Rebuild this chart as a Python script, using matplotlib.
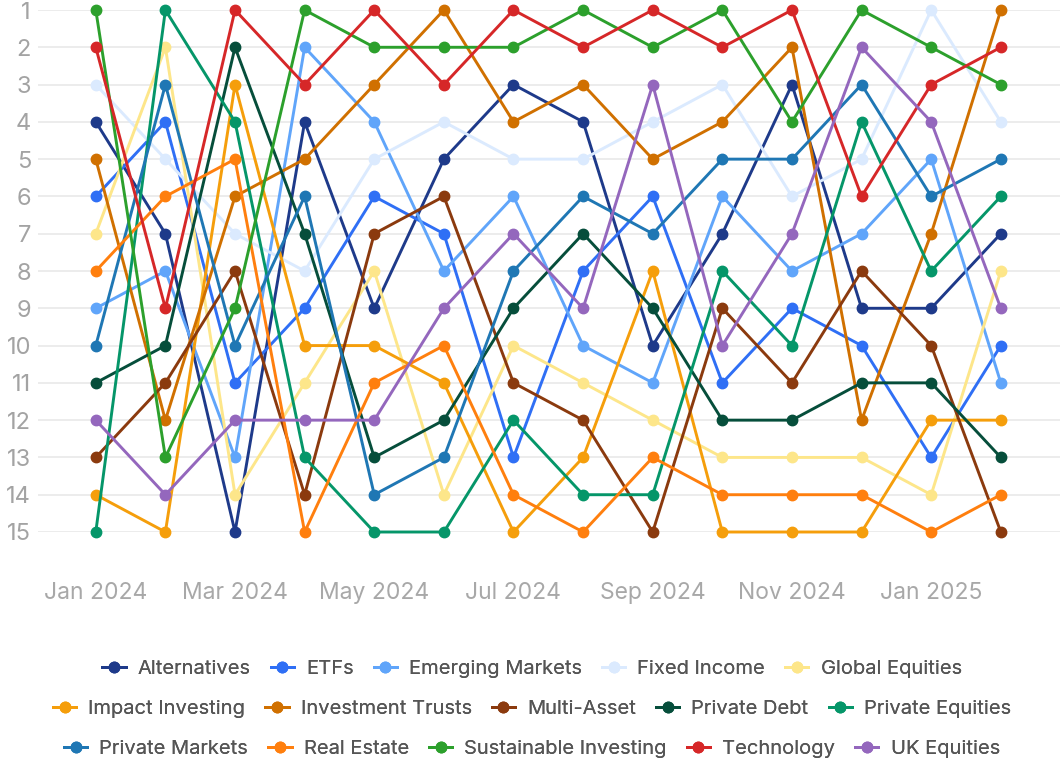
import numpy as np
import matplotlib; matplotlib.use("Agg")
import matplotlib.pyplot as plt

months = ["Jan 2024", "Feb 2024", "Mar 2024", "Apr 2024", "May 2024", "Jun 2024", "Jul 2024",
          "Aug 2024", "Sep 2024", "Oct 2024", "Nov 2024", "Dec 2024", "Jan 2025", "Feb 2025"]
tick_every = 2

alternatives = [4, 7, 15, 4, 9, 5, 3, 4, 10, 7, 3, 9, 9, 7]
etfs = [6, 4, 11, 9, 6, 7, 13, 8, 6, 11, 9, 10, 13, 10]
emerging_markets = [9, 8, 13, 2, 4, 8, 6, 10, 11, 6, 8, 7, 5, 11]
fixed_income = [3, 5, 7, 8, 5, 4, 5, 5, 4, 3, 6, 5, 1, 4]
global_equities = [7, 2, 14, 11, 8, 14, 10, 11, 12, 13, 13, 13, 14, 8]
impact_investing = [14, 15, 3, 10, 10, 11, 15, 13, 8, 15, 15, 15, 12, 12]
investment_trusts = [5, 12, 6, 5, 3, 1, 4, 3, 5, 4, 2, 12, 7, 1]
multi_asset = [13, 11, 8, 14, 7, 6, 11, 12, 15, 9, 11, 8, 10, 15]
private_debt = [11, 10, 2, 7, 13, 12, 9, 7, 9, 12, 12, 11, 11, 13]
private_equities = [15, 1, 4, 13, 15, 15, 12, 14, 14, 8, 10, 4, 8, 6]
private_markets = [10, 3, 10, 6, 14, 13, 8, 6, 7, 5, 5, 3, 6, 5]
real_estate = [8, 6, 5, 15, 11, 10, 14, 15, 13, 14, 14, 14, 15, 14]
sustainable_investing = [1, 13, 9, 1, 2, 2, 2, 1, 2, 1, 4, 1, 2, 3]
technology = [2, 9, 1, 3, 1, 3, 1, 2, 1, 2, 1, 6, 3, 2]
uk_equities = [12, 14, 12, 12, 12, 9, 7, 9, 3, 10, 7, 2, 4, 9]

names = ["Alternatives", "ETFs", "Emerging Markets", "Fixed Income", "Global Equities",
         "Impact Investing", "Investment Trusts", "Multi-Asset", "Private Debt", "Private Equities",
         "Private Markets", "Real Estate", "Sustainable Investing", "Technology", "UK Equities"]
ranks = [alternatives, etfs, emerging_markets, fixed_income, global_equities,
         impact_investing, investment_trusts, multi_asset, private_debt, private_equities,
         private_markets, real_estate, sustainable_investing, technology, uk_equities]
colors = ["#1e3a8a", "#2f6ff5", "#60a5fa", "#dbeafe", "#fde68a",
          "#f59e0b", "#d07000", "#8b3a0e", "#064e3b", "#059669",
          "#1f77b4", "#ff7f0e", "#2ca02c", "#d62728", "#9467bd"]

plt.rcParams["font.family"] = ["Inter", "DejaVu Sans"]
fig = plt.figure(figsize=(10.64, 7.6), dpi=100)
ax = fig.add_axes([38/1064, 0.30, 1022/1064, 522/760])

x = np.arange(len(months))
handles = []
for nm, r, c in zip(names, ranks, colors):
    ln, = ax.plot(x, r, color=c, lw=2.1, marker="o", ms=7.5, clip_on=False, label=nm, zorder=3)
    handles.append(ln)

ax.set_ylim(15, 1)
ax.set_xlim(-0.83, 13.85)
ax.set_yticks(range(1, 16))
ax.yaxis.grid(True, color="#ebebeb", lw=1.3)
ax.set_axisbelow(True)
ax.tick_params(axis="y", length=0, pad=5, labelsize=17, labelcolor="#a3a3a3")
ax.set_xticks(x[::tick_every])
ax.set_xticklabels(months[::tick_every])
ax.tick_params(axis="x", length=0, pad=36, labelsize=16.5, labelcolor="#a8a8a8")
for s in ax.spines.values():
    s.set_visible(False)

# one legend per row so each row is centred on its own, like the original
rows_y = [669, 709, 749]
for i, yy in enumerate(rows_y):
    hs = handles[i*5:(i+1)*5]
    leg = fig.legend(handles=hs, labels=[h.get_label() for h in hs], loc="center",
                     bbox_to_anchor=(0.5, 1 - yy/760), ncol=5, frameon=False,
                     fontsize=14.5, handlelength=1.15, handletextpad=0.6, columnspacing=1.0,
                     borderaxespad=0, borderpad=0, labelcolor="#555555")
    fig.add_artist(leg)

fig.savefig("out.png", dpi=100)
